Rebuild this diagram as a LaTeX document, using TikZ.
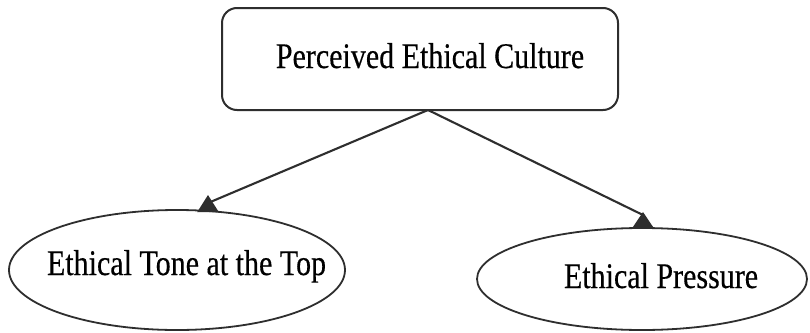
\documentclass[tikz,border=0pt]{standalone}
\usepackage{fontspec}
\setmainfont{Liberation Serif}
\usetikzlibrary{arrows.meta,shapes.geometric}
\definecolor{edge}{HTML}{2E2E2E}
\begin{document}
\begin{tikzpicture}[x=1pt,y=-1pt,
  lbl/.style={inner sep=0pt, anchor=base, text=black, font=\fontsize{30}{36}\selectfont\addfontfeature{FakeBold=0.4}},
  boxshape/.style={draw=edge, line width=2pt, rounded corners=15pt, minimum width=396pt, minimum height=102pt, inner sep=0pt},
  ellshape/.style={draw=edge, line width=1.8pt, ellipse, inner sep=0pt},
  conn/.style={draw=edge, line width=2.1pt},
  headA/.style={-{Triangle[length=17pt,width=21pt]}},
  headB/.style={-{Triangle[length=16pt,width=21pt]}}
]
\useasboundingbox (0,0) rectangle (810,332);
\fill[white] (0,0) rectangle (810,332);
\node[boxshape] (top) at (420,59) {};
\node[ellshape, minimum width=336pt, minimum height=120pt] (e1) at (177,270) {};
\node[ellshape, minimum width=330pt, minimum height=102pt] (e2) at (642,279) {};
\node[lbl] (t0) at (430,68) {\scalebox{1}[1.2]{Perceived Ethical Culture}};
\node[lbl] (t1) at (186.5,275) {\scalebox{1}[1.2]{Ethical Tone at the Top}};
\node[lbl] (t2) at (661,288) {\scalebox{1}[1.2]{Ethical Pressure}};
\coordinate (s) at (428,110);
\coordinate (k1) at (208,203);
\coordinate (a1) at (208,195);
\coordinate (k2) at (643,215);
\coordinate (a2) at (643,212);
\draw[conn, headA] (s) -- (k1) -- (a1);
\draw[conn, headB] (s) -- (k2) -- (a2);
\end{tikzpicture}
\end{document}
